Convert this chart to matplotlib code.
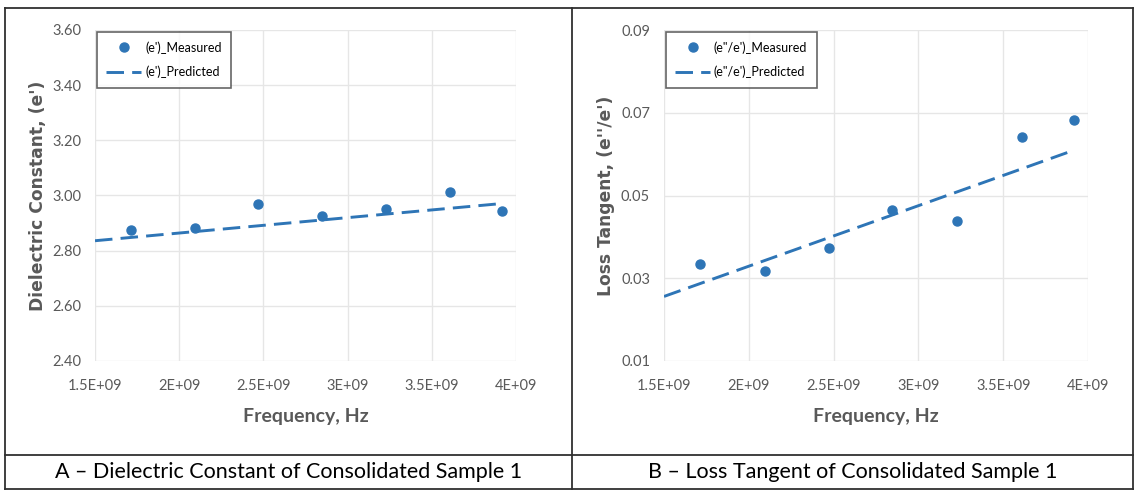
import matplotlib.pyplot as plt
from matplotlib.lines import Line2D

plt.rcParams['font.family'] = ['Lato', 'DejaVu Sans']

freq = [1.714e9, 2.095e9, 2.47e9, 2.847e9, 3.226e9, 3.608e9, 3.915e9]
eps_measured = [2.875, 2.882, 2.968, 2.927, 2.950, 3.013, 2.945]
tan_measured = [0.0335, 0.0317, 0.0373, 0.0465, 0.0439, 0.0641, 0.0682]

# predicted lines: end points of the linear fit
pred_freq = [1.5e9, 3.9e9]
eps_predicted = [2.836, 2.970]
tan_predicted = [0.0256, 0.0607]

xticks = [1.5e9, 2e9, 2.5e9, 3e9, 3.5e9, 4e9]
xticklabels = ["1.5E+09", "2E+09", "2.5E+09", "3E+09", "3.5E+09", "4E+09"]
eps_ticks = [2.40, 2.60, 2.80, 3.00, 3.20, 3.40, 3.60]
tan_ticks = [0.01, 0.03, 0.05, 0.07, 0.09]

blue = "#2E75B6"
gray = "#595959"
grid = "#E6E6E6"

fig = plt.figure(figsize=(11.35, 4.95), dpi=100)
ax1 = fig.add_axes([95 / 1135, 1 - 361 / 495, 421 / 1135, 331 / 495])
ax2 = fig.add_axes([664 / 1135, 1 - 361 / 495, 424 / 1135, 331 / 495])


def style(ax, yticks, ylabel, meas, pred, names):
    ax.plot(freq, meas, "o", color=blue, ms=6.5, label=names[0], zorder=3)
    ax.plot(pred_freq, pred, "--", color=blue, lw=2.1, dashes=(6, 2.8),
            label=names[1], zorder=2)
    ax.set_xlim(1.5e9, 4e9)
    ax.set_ylim(yticks[0], yticks[-1])
    ax.set_xticks(xticks)
    ax.set_xticklabels(xticklabels)
    ax.set_yticks(yticks)
    ax.set_yticklabels(["{:.2f}".format(v) for v in yticks])
    ax.grid(True, color=grid, lw=1)
    ax.set_axisbelow(True)
    for s in ax.spines.values():
        s.set_visible(False)
    ax.tick_params(axis="x", length=0, colors=gray, labelsize=10.5, pad=13)
    ax.tick_params(axis="y", length=0, colors=gray, labelsize=10.5, pad=10)
    ax.set_xlabel("Frequency, Hz", color=gray, fontsize=14, fontweight="bold",
                  labelpad=11)
    ax.set_ylabel(ylabel, color=gray, fontsize=12.3, fontweight="bold",
                  family=["DejaVu Sans"], labelpad=4)
    leg = ax.legend(loc="upper left", fontsize=9, frameon=True, fancybox=False,
                    borderaxespad=0.15, handlelength=2.8, handletextpad=0.3,
                    borderpad=0.75, labelspacing=0.95)
    leg.get_frame().set_edgecolor("#404040")
    leg.get_frame().set_linewidth(1.2)


style(ax1, eps_ticks, "Dielectric Constant, (e')", eps_measured,
      eps_predicted, ["(e')_Measured", "(e')_Predicted"])
style(ax2, tan_ticks, "Loss Tangent, (e''/e')", tan_measured,
      tan_predicted, ["(e\"/e')_Measured", "(e\"/e')_Predicted"])


# table borders
def hline(y, x0, x1):
    fig.add_artist(Line2D([x0 / 1135, x1 / 1135], [1 - y / 495, 1 - y / 495],
                          color="#303030", lw=1.3))


def vline(x, y0, y1):
    fig.add_artist(Line2D([x / 1135, x / 1135], [1 - y0 / 495, 1 - y1 / 495],
                          color="#303030", lw=1.3))


hline(8, 5, 1133)
hline(455, 5, 1133)
hline(489, 5, 1133)
vline(5, 8, 489)
vline(572, 8, 489)
vline(1133, 8, 489)

fig.text(289 / 1135, 1 - 472 / 495, "A \u2013 Dielectric Constant of Consolidated Sample 1",
         ha="center", va="center", fontsize=15.5)
fig.text(853 / 1135, 1 - 472 / 495, "B \u2013 Loss Tangent of Consolidated Sample 1",
         ha="center", va="center", fontsize=15.5)

fig.savefig("out.png", dpi=100)
